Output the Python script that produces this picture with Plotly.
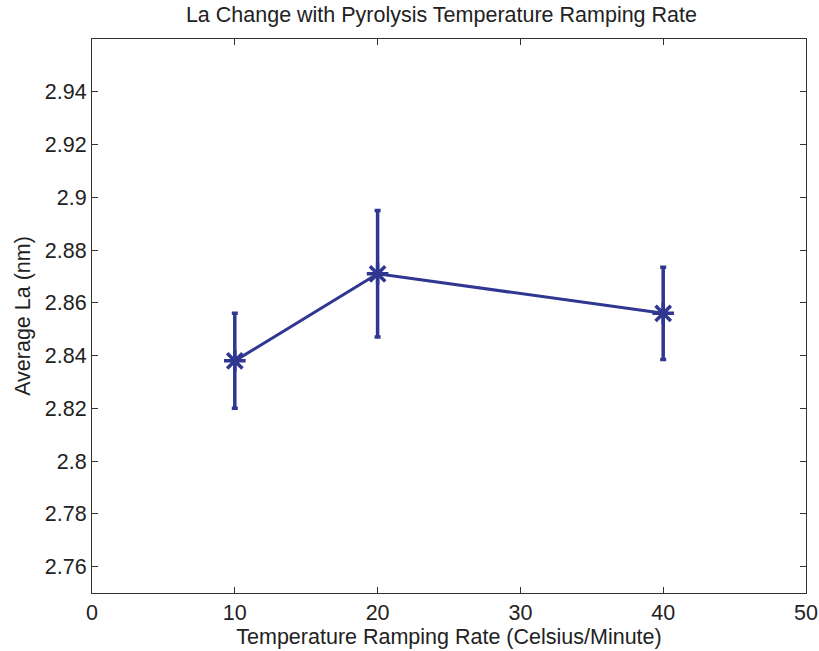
import plotly.graph_objects as go

rates = [10, 20, 40]
avg_la = [2.838, 2.871, 2.856]
err_la = [0.018, 0.024, 0.0175]
x_ticks = [0, 10, 20, 30, 40, 50]
y_ticks = [2.76, 2.78, 2.80, 2.82, 2.84, 2.86, 2.88, 2.90, 2.92, 2.94]
y_labels = ["2.76", "2.78", "2.8", "2.82", "2.84", "2.86", "2.88", "2.9", "2.92", "2.94"]

color = "#2f3790"
font_family = "Liberation Sans, Arial"
fsize = 21.5

fig = go.Figure()
fig.add_trace(go.Scatter(
    x=rates, y=avg_la, mode="lines+markers",
    line=dict(color=color, width=3),
    marker=dict(symbol="asterisk-open", size=18, color=color, line=dict(color=color, width=3.5)),
    error_y=dict(type="data", array=err_la, visible=True, color=color, thickness=3.5, width=3),
    showlegend=False,
))

axis_common = dict(
    showgrid=False, zeroline=False, showline=True, linecolor="#333", linewidth=1,
    mirror="allticks", ticks="inside", ticklen=6, tickcolor="#333", automargin=False,
    tickfont=dict(family=font_family, size=fsize, color="#222"),
)
fig.update_xaxes(range=[0, 50], tickvals=x_ticks, ticktext=[str(v) for v in x_ticks],
                 title=dict(text="Temperature Ramping Rate (Celsius/Minute)",
                            font=dict(family=font_family, size=fsize, color="#222"), standoff=2),
                 **axis_common)
fig.update_yaxes(range=[2.75, 2.96], tickvals=y_ticks, ticktext=y_labels,
                 title=dict(text="Average La (nm)",
                            font=dict(family=font_family, size=fsize, color="#222"), standoff=8),
                 **axis_common)
fig.update_layout(
    width=819, height=651,
    margin=dict(l=92, r=13, t=39, b=58),
    paper_bgcolor="white", plot_bgcolor="white",
    title=dict(text="La Change with Pyrolysis Temperature Ramping Rate",
               x=0.539, xanchor="center", y=0.9785, yanchor="middle",
               font=dict(family=font_family, size=fsize, color="#222")),
)
fig.write_html("out.html")
